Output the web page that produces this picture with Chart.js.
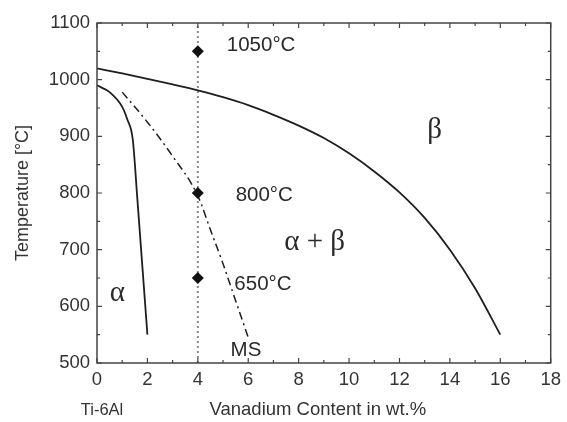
<!DOCTYPE html>
<html><head><meta charset="utf-8">
<script src="https://cdn.jsdelivr.net/npm/chart.js@4.4.1/dist/chart.umd.min.js"></script>
<style>html,body{margin:0;padding:0;background:#fff}#wrap{width:567px;height:422px;position:relative}</style>
</head><body><div id="wrap"><canvas id="c"></canvas></div>
<script>
// beta transus
const betaX = [0,1,2,3,4,5,6,7,8,9,10,11,12,13,14,15,16];
const betaT = [1020,1011,1001.5,991.5,981,969,955,938,919,897,870,838,801,756,700,632,550];
// alpha transus
const alphaX = [0,0.5,1.0,1.2,1.42,1.6,1.8,2.0];
const alphaT = [990,978,952,930,894,790,670,550];
// martensite start (MS)
const msX = [1,2,3,4,4.5,5,5.5,6];
const msT = [978,925,865,795,735,675,610,545];
// heat treatment temperatures at 4 wt.% V
const htX = [4,4,4];
const htT = [1050,800,650];
// vertical reference line
const refX = [4,4];
const refT = [500,1100];
// tick labels
const xTicks = [0,2,4,6,8,10,12,14,16,18];
const yTicks = [500,600,700,800,900,1000,1100];
// annotations
const noteText = ['1050°C','800°C','650°C','α + β','β','α','MS'];
const noteX = [5.15,5.5,5.45,7.43,13.1,0.51,5.3];
const noteT = [1060,795,638,712,910,622,523];
const noteSerif = [false,false,false,true,true,true,false];

const pts = (xs, ys) => xs.map((x,i)=>({x, y: ys[i]}));
const ink = '#1e1e1e';

const framePlugin = {
  id:'frame',
  afterDraw(chart){
    const ctx = chart.ctx, a = chart.chartArea, xs = chart.scales.x, ys = chart.scales.y;
    ctx.save();
    ctx.strokeStyle = '#444'; ctx.lineWidth = 1.5;
    ctx.strokeRect(a.left, a.top, a.right-a.left, a.bottom-a.top);
    ctx.lineWidth = 1.2;
    for (let v=0; v<=18; v+=1){
      const p = xs.getPixelForValue(v), L = (v%2===0)?5:3;
      ctx.beginPath(); ctx.moveTo(p,a.bottom); ctx.lineTo(p,a.bottom-L);
      ctx.moveTo(p,a.top); ctx.lineTo(p,a.top+L); ctx.stroke();
    }
    for (let v=500; v<=1100; v+=50){
      const p = ys.getPixelForValue(v), L = (v%100===0)?5:3;
      ctx.beginPath(); ctx.moveTo(a.left,p); ctx.lineTo(a.left+L,p);
      ctx.moveTo(a.right,p); ctx.lineTo(a.right-L,p); ctx.stroke();
    }
    // annotations
    ctx.fillStyle = '#2a2a2a'; ctx.textBaseline='middle'; ctx.textAlign='left';
    noteText.forEach((t,i)=>{
      ctx.font = noteSerif[i] ? '29px "Liberation Serif"' : '20.5px "Liberation Sans"';
      ctx.fillText(t, xs.getPixelForValue(noteX[i]), ys.getPixelForValue(noteT[i]));
    });
    // axis caption and Ti-6Al label below the x axis
    ctx.fillStyle = '#333';
    ctx.font = '16.5px "Liberation Sans"'; ctx.textAlign='center';
    ctx.fillText('Ti-6Al', xs.getPixelForValue(0.2), 410);
    ctx.font = '18.5px "Liberation Sans"';
    ctx.fillText('Vanadium Content in wt.%', (a.left+a.right)/2 - 6, 410);
    ctx.restore();
  }
};

new Chart(document.getElementById('c'), {
  type:'scatter',
  data:{datasets:[
    {data:pts(htX,htT), showLine:false, pointStyle:'rectRot', pointRadius:6, pointBorderWidth:0,
     pointBackgroundColor:'#111', pointBorderColor:'#111', backgroundColor:'#111', borderColor:'#111'},
    {data:pts(betaX,betaT), showLine:true, borderColor:ink, borderWidth:1.8, pointRadius:0, cubicInterpolationMode:'monotone'},
    {data:pts(alphaX,alphaT), showLine:true, borderColor:ink, borderWidth:1.8, pointRadius:0, cubicInterpolationMode:'monotone'},
    {data:pts(msX,msT), showLine:true, borderColor:ink, borderWidth:1.5, borderDash:[8,4,2,4], pointRadius:0, cubicInterpolationMode:'monotone'},
    {data:pts(refX,refT), showLine:true, borderColor:'#8a8a8a', borderWidth:2, borderDash:[2,3], pointRadius:0}
  ]},
  options:{
    responsive:true, maintainAspectRatio:false, animation:false,
    layout:{padding:{left:0,top:23,right:10,bottom:0}},
    plugins:{legend:{display:false}, tooltip:{enabled:false}},
    scales:{
      x:{type:'linear', min:0, max:18,
        afterBuildTicks(s){ s.ticks = xTicks.map(v=>({value:v})); },
        afterFit(s){ s.height = 59; },
        grid:{display:false, drawTicks:false}, border:{display:false},
        ticks:{padding:6, color:'#333', font:{family:'"Liberation Sans"', size:18.5}, maxRotation:0, autoSkip:false,
          callback:(v)=>String(v)},
        title:{display:false}
      },
      y:{type:'linear', min:500, max:1100,
        afterBuildTicks(s){ s.ticks = yTicks.map(v=>({value:v})); },
        afterFit(s){ s.width = 97; },
        grid:{display:false, drawTicks:false}, border:{display:false},
        ticks:{padding:7, color:'#333', font:{family:'"Liberation Sans"', size:18.5}, autoSkip:false,
          callback:(v)=>String(v)},
        title:{display:true, text:'Temperature [°C]', color:'#333', font:{family:'"Liberation Sans"', size:18}, padding:{top:12,bottom:0}}
      }
    }
  },
  plugins:[framePlugin]
});
</script></body></html>
